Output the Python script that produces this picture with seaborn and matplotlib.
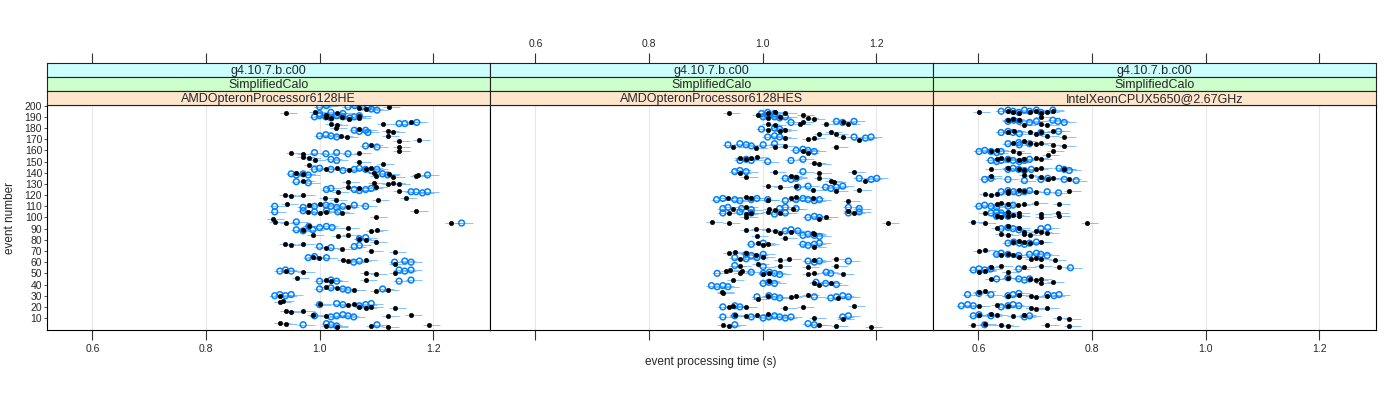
"""
Dotplot of event processing time per event, one panel per machine
(lattice-like strips on top).
"""

import pandas as pd
import matplotlib
matplotlib.use("Agg")
from matplotlib import pyplot as plt
import seaborn as sns

release = "g4.10.7.b.c00"
benchmark = "SimplifiedCalo"
machines = ["AMDOpteronProcessor6128HE", "AMDOpteronProcessor6128HES", "IntelXeonCPUX5650@2.67GHz"]
x_ticks = [0.6, 0.8, 1.0, 1.2]
y_ticks = list(range(10, 201, 10))

# (event number, time in s)
he_black = [
    (199, 1.122), (198, 1.070), (197, 1.081), (193, 0.940), (194, 0.991), (192, 1.011), (193, 1.030),
    (191, 1.070), (190, 1.011), (189, 1.020), (190, 1.040), (188, 1.051), (189, 1.070),
    (184, 1.111), (185, 1.161), (184, 1.020), (183, 1.030), (180, 1.029), (179, 1.070),
    (177, 1.120), (176, 1.130), (173, 1.038), (172, 1.048), (173, 1.120), (169, 1.175),
    (168, 1.140), (165, 1.091), (163, 1.140), (158, 0.950), (157, 0.971), (158, 1.070),
    (159, 1.140), (154, 0.971), (153, 0.982), (151, 0.991), (150, 1.070), (148, 1.111),
    (147, 0.982), (143, 1.011), (144, 1.030), (142, 1.051), (143, 1.082), (144, 1.091),
    (140, 0.959), (139, 0.971), (140, 1.096), (139, 1.122), (137, 1.099), (136, 1.130),
    (138, 1.173), (137, 1.170), (133, 0.971), (132, 1.050), (131, 1.096), (130, 1.120),
    (131, 1.130), (130, 1.140), (127, 1.050), (126, 1.070), (127, 1.099), (124, 1.140),
    (123, 1.032), (120, 0.939), (119, 0.950), (120, 0.971), (117, 1.009), (116, 1.029),
    (116, 1.102), (117, 1.152), (112, 0.942), (111, 0.982), (112, 1.000), (109, 1.050),
    (106, 1.170), (105, 0.980), (104, 1.000), (105, 1.012), (104, 1.040), (100, 1.099),
    (99, 0.918), (96, 0.921), (95, 0.940), (95, 1.231), (92, 0.981), (91, 1.050),
    (89, 0.970), (88, 1.091), (89, 1.101), (84, 0.988), (83, 1.032), (84, 1.050),
    (81, 1.070), (80, 1.081), (78, 1.099), (76, 0.939), (75, 0.950), (76, 0.971),
    (73, 1.011), (72, 1.040), (70, 1.091), (69, 1.132), (65, 0.988), (64, 0.999),
    (62, 1.041), (61, 1.050), (62, 1.081), (58, 1.132), (52, 0.940), (51, 0.971),
    (50, 1.081), (49, 1.099), (50, 1.132), (46, 0.961), (44, 1.011), (43, 1.020),
    (44, 1.081), (38, 1.011), (37, 1.030), (35, 1.061), (34, 1.099), (35, 1.120),
    (30, 0.930), (25, 0.935), (24, 0.930), (23, 1.000), (22, 1.050), (23, 1.061),
    (20, 1.070), (19, 1.081), (20, 1.091), (19, 1.132), (16, 0.940), (15, 0.950),
    (16, 0.971), (13, 0.988), (12, 1.012), (13, 1.161), (12, 1.120), (6, 0.930),
    (5, 0.940), (3, 1.012), (2, 1.030), (3, 1.091), (2, 1.120), (4, 1.192),
]
he_blue = [
    (197, 1.091), (196, 1.101), (199, 1.000), (200, 1.012), (199, 1.050), (200, 1.062),
    (199, 1.075), (198, 1.085), (190, 0.991), (191, 1.000), (190, 1.011), (189, 1.020),
    (191, 1.030), (190, 1.041), (189, 1.053), (190, 1.061), (191, 1.070), (193, 1.000),
    (194, 1.020), (193, 1.041), (184, 1.140), (184, 1.150), (185, 1.171), (178, 1.061),
    (177, 1.070), (178, 1.081), (176, 1.085), (173, 1.000), (174, 1.011), (173, 1.020),
    (172, 1.030), (164, 1.081), (163, 1.101), (158, 0.991), (157, 1.011), (158, 1.030),
    (157, 1.050), (152, 1.020), (151, 1.030), (143, 0.991), (144, 1.000), (143, 1.020),
    (142, 1.041), (143, 1.061), (144, 1.070), (143, 1.081), (142, 1.091), (143, 1.101),
    (139, 0.950), (138, 0.959), (139, 0.971), (138, 0.980), (139, 1.111), (138, 1.120),
    (138, 1.190), (132, 0.959), (131, 0.980), (125, 1.012), (126, 1.020), (125, 1.061),
    (124, 1.070), (125, 1.081), (126, 1.091), (123, 1.161), (123, 1.170), (122, 1.181),
    (123, 1.190), (110, 0.921), (109, 0.971), (110, 0.991), (111, 1.011), (110, 1.020),
    (109, 1.030), (110, 1.041), (111, 1.061), (110, 1.081), (105, 0.921), (106, 0.971),
    (105, 0.991), (106, 1.012), (105, 1.032), (96, 0.959), (95, 1.250), (92, 0.981),
    (91, 1.000), (92, 1.012), (91, 1.022), (89, 0.959), (88, 0.971), (89, 0.988),
    (81, 1.070), (82, 1.081), (74, 1.000), (73, 1.020), (74, 1.061), (75, 1.070),
    (64, 0.980), (65, 0.991), (64, 1.012), (60, 1.060), (61, 1.070), (60, 1.132),
    (61, 1.150), (60, 1.161), (52, 0.930), (53, 0.940), (52, 0.950), (53, 1.140),
    (52, 1.150), (53, 1.161), (43, 1.000), (44, 1.020), (43, 1.030), (43, 1.140),
    (44, 1.161), (36, 1.000), (37, 1.020), (36, 1.041), (35, 1.050), (36, 1.111),
    (30, 0.921), (31, 0.930), (30, 0.940), (31, 0.950), (22, 1.000), (23, 1.030),
    (22, 1.041), (21, 1.070), (22, 1.081), (23, 1.091), (12, 0.991), (11, 1.020),
    (12, 1.030), (13, 1.041), (12, 1.050), (11, 1.060), (4, 0.971), (5, 1.012),
    (4, 1.020), (3, 1.030), (4, 1.101),
]
hes_black = [
    (193, 0.941), (192, 0.992), (193, 1.009), (194, 1.021), (193, 1.040), (192, 1.071),
    (189, 1.009), (190, 1.030), (189, 1.080), (188, 1.090), (184, 1.009), (183, 1.021),
    (184, 1.065), (185, 1.071), (184, 1.112), (185, 1.141), (184, 1.151), (178, 1.009),
    (177, 1.030), (178, 1.040), (175, 1.100), (176, 1.120), (175, 1.130), (171, 1.040),
    (170, 1.080), (171, 1.090), (172, 1.141), (169, 1.170), (163, 0.948), (162, 0.989),
    (163, 1.021), (164, 1.040), (163, 1.130), (159, 1.071), (158, 1.080), (153, 0.960),
    (152, 0.971), (153, 0.980), (154, 0.990), (149, 1.091), (148, 1.100), (140, 0.960),
    (141, 1.021), (140, 1.100), (141, 1.161), (136, 0.971), (137, 1.050), (136, 1.059),
    (135, 1.100), (133, 1.120), (132, 1.126), (133, 1.181), (128, 1.009), (127, 1.030),
    (128, 1.059), (125, 1.088), (124, 1.130), (125, 1.170), (117, 0.939), (118, 0.971),
    (117, 0.980), (116, 1.009), (117, 1.050), (118, 1.059), (117, 1.088), (115, 1.151),
    (108, 0.948), (109, 0.971), (108, 1.011), (107, 1.021), (108, 1.053), (106, 1.151),
    (104, 0.941), (103, 0.971), (104, 0.980), (105, 1.009), (104, 1.030), (104, 1.161),
    (100, 0.971), (99, 1.100), (100, 1.112), (96, 0.910), (95, 0.941), (95, 1.220),
    (89, 0.970), (90, 0.989), (89, 1.009), (88, 1.021), (86, 1.030), (87, 1.050),
    (86, 1.088), (85, 1.091), (83, 0.990), (82, 1.040), (77, 0.992), (76, 1.009),
    (75, 1.001), (74, 1.091), (68, 0.941), (69, 0.951), (68, 0.971), (66, 0.989),
    (65, 1.001), (63, 0.960), (62, 1.030), (63, 1.047), (62, 1.091), (63, 1.130),
    (57, 0.960), (58, 0.992), (57, 1.030), (56, 1.080), (57, 1.130), (52, 0.936),
    (53, 0.942), (52, 0.963), (50, 0.960), (49, 1.001), (50, 1.011), (49, 1.080),
    (50, 1.091), (49, 1.141), (44, 0.948), (43, 1.011), (41, 1.091), (40, 1.100),
    (41, 1.120), (33, 0.929), (32, 0.930), (30, 1.009), (29, 1.050), (30, 1.059),
    (31, 1.080), (27, 0.992), (28, 1.132), (20, 0.941), (21, 0.948), (20, 0.970),
    (19, 1.040), (20, 1.071), (21, 1.161), (13, 0.951), (12, 0.971), (13, 0.990),
    (14, 1.009), (10, 1.091), (9, 1.141), (4, 0.930), (3, 0.941), (4, 1.100),
    (3, 1.130), (2, 1.191),
]
hes_blue = [
    (190, 1.001), (191, 1.009), (190, 1.021), (189, 1.030), (190, 1.040), (193, 0.998),
    (194, 1.009), (193, 1.021), (185, 1.050), (186, 1.130), (185, 1.141), (186, 1.161),
    (179, 0.998), (180, 1.021), (179, 1.030), (172, 1.009), (173, 1.021), (172, 1.030),
    (172, 1.161), (171, 1.181), (172, 1.191), (165, 0.939), (166, 0.960), (165, 0.971),
    (164, 0.980), (165, 1.001), (166, 1.021), (160, 1.059), (161, 1.071), (160, 1.080),
    (159, 1.091), (151, 0.960), (152, 0.971), (151, 0.980), (150, 1.009), (151, 1.050),
    (152, 1.071), (141, 0.951), (142, 0.960), (141, 0.971), (141, 1.071), (135, 1.040),
    (134, 1.050), (135, 1.059), (135, 1.170), (134, 1.191), (135, 1.201), (127, 1.062),
    (128, 1.080), (127, 1.111), (126, 1.120), (127, 1.130), (128, 1.141), (116, 0.919),
    (117, 0.930), (116, 0.951), (115, 0.960), (116, 0.980), (117, 0.990), (116, 1.009),
    (115, 1.040), (116, 1.059), (117, 1.071), (116, 1.080), (115, 1.091), (116, 1.100),
    (108, 0.930), (109, 0.939), (108, 0.963), (107, 0.980), (108, 1.030), (109, 1.040),
    (108, 1.059), (109, 1.151), (108, 1.170), (104, 0.930), (105, 0.960), (104, 0.980),
    (103, 1.021), (104, 1.040), (104, 1.151), (105, 1.170), (100, 1.080), (101, 1.091),
    (100, 1.100), (88, 1.040), (89, 1.050), (88, 1.062), (84, 1.071), (85, 1.080),
    (84, 1.091), (83, 1.100), (76, 0.980), (77, 1.001), (76, 1.071), (75, 1.080),
    (76, 1.091), (77, 1.100), (67, 0.971), (66, 0.980), (67, 1.001), (64, 0.951),
    (63, 0.971), (64, 0.990), (61, 1.080), (60, 1.091), (61, 1.100), (61, 1.151),
    (57, 0.951), (56, 1.001), (50, 0.920), (51, 0.980), (50, 1.001), (51, 1.012),
    (50, 1.021), (49, 1.030), (51, 1.112), (50, 1.120), (41, 1.001), (42, 1.011),
    (41, 1.021), (42, 1.094), (41, 1.111), (40, 1.130), (39, 0.910), (38, 0.920),
    (39, 0.930), (38, 0.939), (29, 0.990), (30, 1.011), (29, 1.021), (28, 1.030),
    (29, 1.091), (28, 1.120), (29, 1.130), (30, 1.141), (29, 1.151), (20, 0.930),
    (21, 0.951), (20, 0.960), (11, 0.930), (12, 0.951), (11, 0.980), (10, 1.001),
    (11, 1.011), (12, 1.021), (11, 1.030), (10, 1.040), (11, 1.050), (11, 1.141),
    (12, 1.151), (4, 0.951), (5, 1.080), (4, 1.091),
]
xeon_black = [
    (194, 0.601), (195, 0.652), (194, 0.661), (193, 0.671), (194, 0.690), (195, 0.702),
    (193, 0.710), (194, 0.721), (195, 0.731), (190, 0.710), (187, 0.652), (188, 0.661),
    (187, 0.671), (183, 0.681), (184, 0.710), (183, 0.721), (176, 0.652), (177, 0.662),
    (176, 0.690), (175, 0.702), (176, 0.710), (177, 0.731), (173, 0.721), (172, 0.751),
    (167, 0.661), (168, 0.681), (167, 0.690), (166, 0.702), (167, 0.710), (165, 0.731),
    (164, 0.751), (159, 0.622), (160, 0.632), (159, 0.661), (158, 0.672), (159, 0.731),
    (156, 0.722), (152, 0.632), (153, 0.640), (152, 0.652), (151, 0.671), (152, 0.681),
    (153, 0.702), (152, 0.710), (143, 0.622), (144, 0.652), (143, 0.671), (142, 0.681),
    (143, 0.702), (144, 0.710), (143, 0.751), (137, 0.622), (138, 0.681), (137, 0.692),
    (136, 0.710), (134, 0.722), (135, 0.731), (134, 0.760), (124, 0.652), (125, 0.671),
    (124, 0.681), (123, 0.702), (124, 0.760), (121, 0.611), (120, 0.622), (121, 0.632),
    (122, 0.652), (112, 0.632), (113, 0.640), (112, 0.652), (111, 0.670), (112, 0.681),
    (113, 0.702), (112, 0.741), (101, 0.632), (100, 0.640), (101, 0.652), (102, 0.661),
    (101, 0.671), (100, 0.710), (101, 0.742), (104, 0.611), (105, 0.652), (104, 0.671),
    (103, 0.710), (104, 0.740), (96, 0.591), (95, 0.611), (95, 0.791), (91, 0.632),
    (92, 0.652), (91, 0.671), (87, 0.681), (88, 0.702), (87, 0.710), (86, 0.721),
    (85, 0.640), (84, 0.652), (85, 0.681), (84, 0.690), (78, 0.661), (79, 0.671),
    (78, 0.681), (77, 0.690), (78, 0.710), (70, 0.601), (71, 0.611), (66, 0.640),
    (67, 0.652), (66, 0.661), (65, 0.671), (63, 0.692), (64, 0.702), (63, 0.710),
    (62, 0.734), (56, 0.622), (57, 0.640), (56, 0.681), (57, 0.710), (56, 0.742),
    (51, 0.601), (52, 0.611), (51, 0.652), (45, 0.622), (46, 0.652), (45, 0.690),
    (44, 0.702), (45, 0.710), (42, 0.731), (41, 0.710), (33, 0.601), (34, 0.611),
    (30, 0.652), (31, 0.671), (30, 0.692), (29, 0.702), (30, 0.721), (21, 0.601),
    (22, 0.632), (21, 0.652), (19, 0.692), (18, 0.702), (19, 0.721), (13, 0.601),
    (14, 0.622), (13, 0.632), (12, 0.661), (13, 0.681), (10, 0.742), (9, 0.760),
    (4, 0.591), (5, 0.611), (4, 0.640), (3, 0.652), (4, 0.721), (3, 0.760),
]
xeon_blue = [
    (195, 0.640), (196, 0.652), (195, 0.661), (194, 0.671), (196, 0.681), (195, 0.690),
    (196, 0.702), (194, 0.710), (196, 0.731), (186, 0.652), (187, 0.662), (186, 0.672),
    (185, 0.690), (186, 0.702), (187, 0.731), (186, 0.740), (185, 0.751), (176, 0.640),
    (177, 0.652), (176, 0.661), (175, 0.672), (176, 0.710), (177, 0.741), (166, 0.652),
    (167, 0.671), (165, 0.672), (166, 0.690), (159, 0.601), (160, 0.611), (159, 0.622),
    (158, 0.632), (159, 0.640), (151, 0.622), (150, 0.632), (151, 0.640), (152, 0.652),
    (151, 0.661), (150, 0.672), (151, 0.681), (152, 0.690), (143, 0.652), (144, 0.661),
    (143, 0.671), (142, 0.681), (143, 0.693), (144, 0.742), (143, 0.751), (142, 0.760),
    (134, 0.611), (135, 0.622), (134, 0.652), (133, 0.681), (134, 0.710), (135, 0.722),
    (134, 0.751), (133, 0.772), (123, 0.640), (124, 0.652), (123, 0.662), (122, 0.671),
    (123, 0.681), (124, 0.690), (123, 0.721), (122, 0.741), (110, 0.601), (111, 0.611),
    (110, 0.622), (109, 0.632), (110, 0.652), (111, 0.661), (101, 0.632), (102, 0.640),
    (101, 0.652), (104, 0.622), (105, 0.632), (104, 0.640), (103, 0.652), (90, 0.640),
    (91, 0.652), (90, 0.661), (89, 0.671), (90, 0.710), (91, 0.722), (77, 0.652),
    (78, 0.662), (77, 0.672), (76, 0.681), (77, 0.690), (78, 0.702), (67, 0.632),
    (68, 0.640), (67, 0.652), (66, 0.671), (67, 0.690), (68, 0.702), (67, 0.710),
    (66, 0.721), (54, 0.671), (55, 0.762), (53, 0.591), (54, 0.601), (53, 0.611),
    (54, 0.622), (45, 0.632), (46, 0.652), (45, 0.671), (44, 0.681), (45, 0.690),
    (31, 0.581), (32, 0.601), (31, 0.622), (30, 0.652), (31, 0.661), (32, 0.671),
    (31, 0.722), (30, 0.733), (31, 0.742), (21, 0.570), (22, 0.581), (21, 0.591),
    (20, 0.640), (21, 0.652), (22, 0.661), (21, 0.671), (12, 0.591), (13, 0.601),
    (12, 0.622), (11, 0.681), (12, 0.690), (4, 0.611),
]

black_sets = [he_black, hes_black, xeon_black]
blue_sets = [he_blue, hes_blue, xeon_blue]

sns.set_theme(style="white")
plt.rcParams['font.family'] = ['Liberation Sans', 'DejaVu Sans']

W, H = 1400, 400
fig = plt.figure(figsize=(14, 4), dpi=100)
xlim = (0.52, 1.30)
ylim = (-0.7, 200.6)
panel_left = [47, 490, 933]
panel_w = 443
strip_colors = ['#ccffff', '#ccffcc', '#ffe5cc']

for i, machine in enumerate(machines):
    left = panel_left[i] / W
    ax = fig.add_axes([left, 1 - 330 / H, panel_w / W, 225 / H])
    for v in x_ticks:
        ax.axvline(v, color='#e8e8e8', lw=0.8, zorder=0)

    blk = pd.DataFrame(black_sets[i], columns=['event', 'time'])
    blu = pd.DataFrame(blue_sets[i], columns=['event', 'time'])
    both = pd.concat([blk, blu])
    # small whiskers next to every point
    ax.hlines(both['event'], both['time'] - 0.010, both['time'] + 0.020,
              color='#4da6ff', lw=0.7, alpha=0.7, zorder=1)
    sns.scatterplot(data=blu, x='time', y='event', ax=ax, marker='o', s=17,
                    facecolor='none', edgecolor='#0080ff', linewidth=1.1, zorder=2)
    sns.scatterplot(data=blk, x='time', y='event', ax=ax, marker='o', s=11,
                    color='black', edgecolor='black', linewidth=0.3, zorder=3)

    ax.set_xlim(*xlim)
    ax.set_ylim(*ylim)
    ax.set_xlabel('')
    ax.set_ylabel('')
    ax.set_xticks(x_ticks)
    ax.set_yticks(y_ticks)
    ax.tick_params(axis='x', direction='out', length=7, width=0.8, color='#333333',
                   labelsize=7.5, labelbottom=(i != 1), bottom=True, pad=3)
    if i == 0:
        ax.tick_params(axis='y', direction='out', length=2, width=0.6, color='#333333',
                       labelsize=7.5, left=True, pad=1.5)
    else:
        ax.tick_params(axis='y', left=False, labelleft=False)
    for s in ax.spines.values():
        s.set_color('black')
        s.set_linewidth(0.8)

    texts = [release, benchmark, machine]
    for j, (txt, col) in enumerate(zip(texts, strip_colors)):
        top = 63 + 14 * j
        sax = fig.add_axes([left, 1 - (top + 14) / H, panel_w / W, 14 / H])
        sax.set_facecolor(col)
        sax.set_xlim(*xlim)
        sax.set_ylim(0, 1)
        sax.set_yticks([])
        sax.text(sum(xlim) / 2, 0.45, txt, ha='center', va='center', fontsize=9)
        for s in sax.spines.values():
            s.set_color('#222222')
            s.set_linewidth(0.8)
        if j == 0:
            sax.set_xticks(x_ticks)
            sax.tick_params(axis='x', top=True, bottom=False, labeltop=(i == 1),
                            labelbottom=False, direction='out', length=7, width=0.8,
                            color='#333333', labelsize=7.5, pad=3)
        else:
            sax.set_xticks([])

fig.text(711 / W, 1 - 362 / H, 'event processing time (s)', ha='center', va='center', fontsize=8.5)
fig.text(10 / W, 1 - 218 / H, 'event number', ha='center', va='center', rotation=90, fontsize=8.5)

fig.savefig('out.png', dpi=100)
